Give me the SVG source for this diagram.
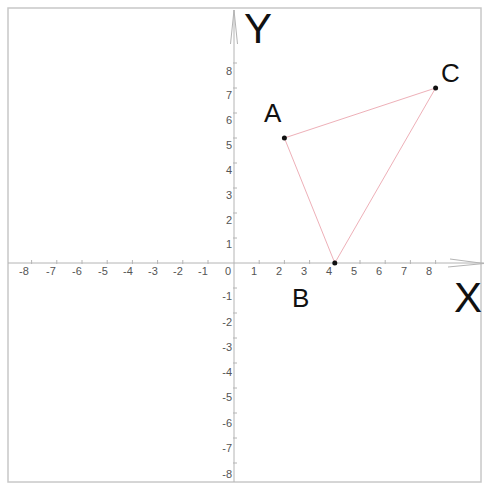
<svg xmlns="http://www.w3.org/2000/svg" width="488" height="484" viewBox="0 0 488 484">
<style>
.frame{fill:#fff;stroke:#c8c8c8;stroke-width:1.5}
.axis{stroke:#b4b4b4;stroke-width:1;fill:none}
.tick{stroke:#b4b4b4;stroke-width:1}
.tl{font-family:"Liberation Sans",Arial,sans-serif;font-size:11px;fill:#555}
.big{font-family:"Liberation Sans",Arial,sans-serif;font-size:42px;fill:#111}
.pl{font-family:"Liberation Sans",Arial,sans-serif;font-size:26px;fill:#111}
.edge{stroke:#eeb0b8;stroke-width:1;fill:none}
.pt{fill:#111}
</style>
<rect class="frame" x="8" y="8" width="473" height="474"/>
<g id="axes">
<line class="axis" x1="8" y1="263" x2="484" y2="263"/>
<polyline class="axis" points="450,259 484,263.5 448,267"/>
<line class="axis" x1="234" y1="482" x2="234" y2="10"/>
<polyline class="axis" points="230.5,44 234,10 237.5,44"/>
</g>
<g id="ticks">
<path class="tick" d="M31.6 260v4M56.8 260v4M82 260v4M107.2 260v4M132.4 260v4M157.6 260v4M182.8 260v4M208 260v4M259.2 260v4M284.4 260v4M309.6 260v4M334.8 260v4M360 260v4M385.2 260v4M410.4 260v4M435.6 260v4"/>
<path class="tick" d="M233 63h4M233 88h4M233 113h4M233 138h4M233 163h4M233 188h4M233 213h4M233 238h4M233 288h4M233 313h4M233 338h4M233 363h4M233 388h4M233 413h4M233 438h4M233 463h4"/>
</g>
<g id="xlabels" class="tl" text-anchor="middle">
<text x="24" y="275">-8</text>
<text x="51" y="275">-7</text>
<text x="77" y="275">-6</text>
<text x="103" y="275">-5</text>
<text x="128" y="275">-4</text>
<text x="153" y="275">-3</text>
<text x="178" y="275">-2</text>
<text x="203" y="275">-1</text>
<text x="228" y="275">0</text>
<text x="254" y="275">1</text>
<text x="279" y="275">2</text>
<text x="304" y="275">3</text>
<text x="329" y="275">4</text>
<text x="354" y="275">5</text>
<text x="379" y="275">6</text>
<text x="404" y="275">7</text>
<text x="429" y="275">8</text>
</g>
<g id="ylabels" class="tl" text-anchor="end">
<text x="232" y="75">8</text>
<text x="232" y="99">7</text>
<text x="232" y="124">6</text>
<text x="232" y="149">5</text>
<text x="232" y="174">4</text>
<text x="232" y="199">3</text>
<text x="232" y="224">2</text>
<text x="232" y="248">1</text>
<text x="232" y="300">-1</text>
<text x="232" y="326">-2</text>
<text x="232" y="351">-3</text>
<text x="232" y="376">-4</text>
<text x="232" y="401">-5</text>
<text x="232" y="427">-6</text>
<text x="232" y="452">-7</text>
<text x="232" y="478">-8</text>
</g>
<text class="big" x="244" y="43">Y</text>
<text class="big" x="454" y="312">X</text>
<g id="connectors">
<line class="edge" x1="284.4" y1="138" x2="435.6" y2="88"/>
<line class="edge" x1="284.4" y1="138" x2="334.8" y2="263"/>
<line class="edge" x1="334.8" y1="263" x2="435.6" y2="88"/>
</g>
<g id="A"><circle class="pt" cx="284.4" cy="138" r="2.5"/><text class="pl" x="264" y="122">A</text></g>
<g id="B"><circle class="pt" cx="334.8" cy="263" r="2.5"/><text class="pl" x="292" y="307">B</text></g>
<g id="C"><circle class="pt" cx="435.6" cy="88" r="2.5"/><text class="pl" x="441" y="82">C</text></g>
</svg>
